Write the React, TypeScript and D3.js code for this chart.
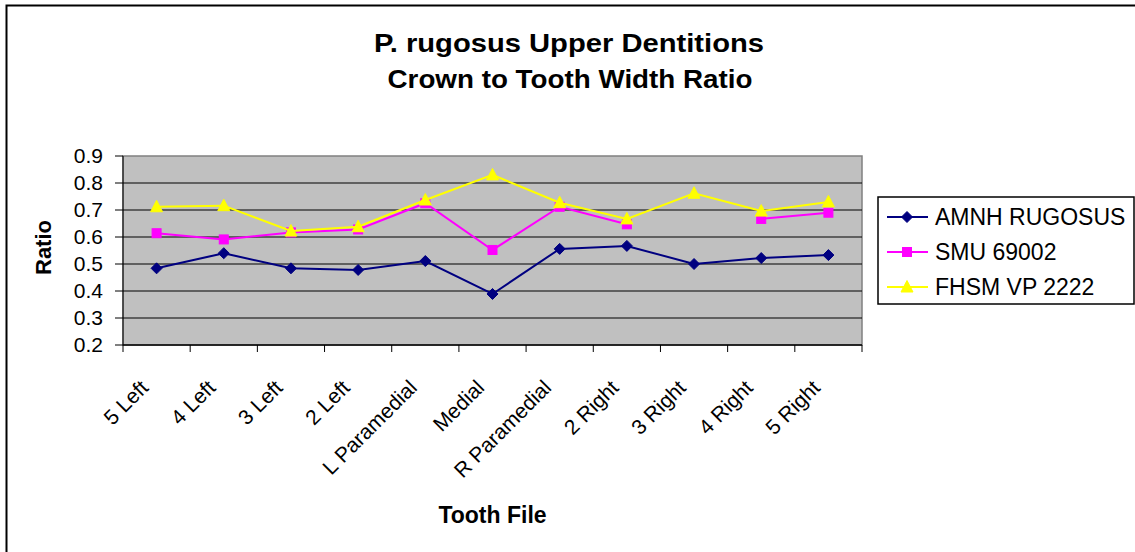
import React from "react";
import * as d3 from "d3";

const categories = ["5 Left", "4 Left", "3 Left", "2 Left", "L Paramedial", "Medial", "R Paramedial", "2 Right", "3 Right", "4 Right", "5 Right"];
const amnh = [0.484, 0.540, 0.484, 0.478, 0.511, 0.389, 0.556, 0.567, 0.500, 0.522, 0.533];
const smu: (number | null)[] = [0.614, 0.591, 0.617, 0.628, 0.725, 0.552, 0.712, 0.647, null, 0.667, 0.690];
const fhsm = [0.712, 0.716, 0.622, 0.638, 0.737, 0.830, 0.727, 0.667, 0.762, 0.696, 0.730];
const yTicks = [0.2, 0.3, 0.4, 0.5, 0.6, 0.7, 0.8, 0.9];
const seriesNames = ["AMNH RUGOSUS", "SMU 69002", "FHSM VP 2222"];
const seriesColors = ["#000080", "#FF00FF", "#FFFF00"];

const W = 1135, H = 552;
const L = 123, R = 862, T = 156, B = 345;
const FONT = "'Liberation Sans', Arial, sans-serif";

function Marker({ kind, x, y, color }: { kind: number; x: number; y: number; color: string }) {
  if (kind === 0) {
    const s = 5.5;
    return <path d={`M${x},${y - s}L${x + s},${y}L${x},${y + s}L${x - s},${y}Z`} fill={color} stroke={color} strokeWidth={1} />;
  }
  if (kind === 1) {
    const s = 4.5;
    return <rect x={x - s} y={y - s} width={2 * s} height={2 * s} fill={color} stroke={color} strokeWidth={1} />;
  }
  const s = 5.5;
  return <path d={`M${x},${y - s - 1}L${x + s + 0.5},${y + s - 0.5}L${x - s - 0.5},${y + s - 0.5}Z`} fill={color} stroke={color} strokeWidth={1} />;
}

export default function App() {
  const x = d3.scaleBand<string>().domain(categories).range([L, R]).padding(0);
  const y = d3.scaleLinear().domain([0.2, 0.9]).range([B, T]);
  const cx = (c: string) => (x(c) as number) + x.bandwidth() / 2;
  const series = [amnh, smu, fhsm];
  const line = d3
    .line<number | null>()
    .defined((d) => d !== null)
    .x((_, i) => cx(categories[i]))
    .y((d) => y(d as number));

  const boundaries = d3.range(categories.length + 1).map((i) => L + i * x.bandwidth());

  return (
    <svg width={W} height={H} style={{ position: "absolute", left: 0, top: 0 }} fontFamily={FONT}>
      <rect x={0} y={0} width={W} height={H} fill="#fff" />
      <rect x={6.5} y={5.5} width={W + 10} height={H + 10} fill="none" stroke="#000" strokeWidth={2} />

      <text x={569} y={52} textAnchor="middle" fontSize={26} fontWeight="bold" textLength={390} lengthAdjust="spacingAndGlyphs">
        P. rugosus Upper Dentitions
      </text>
      <text x={570} y={88} textAnchor="middle" fontSize={26} fontWeight="bold" textLength={365} lengthAdjust="spacingAndGlyphs">
        Crown to Tooth Width Ratio
      </text>

      <rect x={L} y={T} width={R - L} height={B - T} fill="#C0C0C0" stroke="#808080" strokeWidth={1.5} />
      {yTicks.slice(1, -1).map((t) => (
        <line key={t} x1={L} x2={R} y1={y(t)} y2={y(t)} stroke="#000" strokeWidth={1} />
      ))}
      <line x1={L} x2={L} y1={T} y2={B} stroke="#000" strokeWidth={1} />
      <line x1={L} x2={R} y1={B} y2={B} stroke="#000" strokeWidth={1.5} />
      {yTicks.map((t) => (
        <g key={t}>
          <line x1={L - 8} x2={L} y1={y(t)} y2={y(t)} stroke="#000" strokeWidth={1} />
          <text x={103} y={y(t)} dy="0.35em" textAnchor="end" fontSize={21}>
            {t.toFixed(1)}
          </text>
        </g>
      ))}
      {boundaries.map((b, i) => (
        <line key={i} x1={b} x2={b} y1={B} y2={B + 7} stroke="#000" strokeWidth={1} />
      ))}
      {categories.map((c) => (
        <text key={c} transform={`translate(${cx(c) - 7},${389}) rotate(-45)`} textAnchor="end" fontSize={21}>
          {c}
        </text>
      ))}

      <text transform={`translate(51,${(T + B) / 2 - 3}) rotate(-90)`} textAnchor="middle" fontSize={22} fontWeight="bold">
        Ratio
      </text>
      <text x={(L + R) / 2} y={523} textAnchor="middle" fontSize={23} fontWeight="bold">
        Tooth File
      </text>

      {series.map((s, si) => (
        <g key={si}>
          <path d={line(s) || ""} fill="none" stroke={seriesColors[si]} strokeWidth={2} />
          {s.map((v, i) =>
            v === null ? null : <Marker key={i} kind={si} x={cx(categories[i])} y={y(v)} color={seriesColors[si]} />
          )}
        </g>
      ))}

      <rect x={878} y={197} width={256} height={107} fill="#fff" stroke="#000" strokeWidth={1.5} />
      {seriesNames.map((n, i) => {
        const ly = 217 + i * 35;
        return (
          <g key={n}>
            <line x1={887} x2={928} y1={ly} y2={ly} stroke={seriesColors[i]} strokeWidth={2} />
            <Marker kind={i} x={907} y={ly} color={seriesColors[i]} />
            <text x={935} y={ly} dy="0.35em" fontSize={23}>
              {n}
            </text>
          </g>
        );
      })}
    </svg>
  );
}
